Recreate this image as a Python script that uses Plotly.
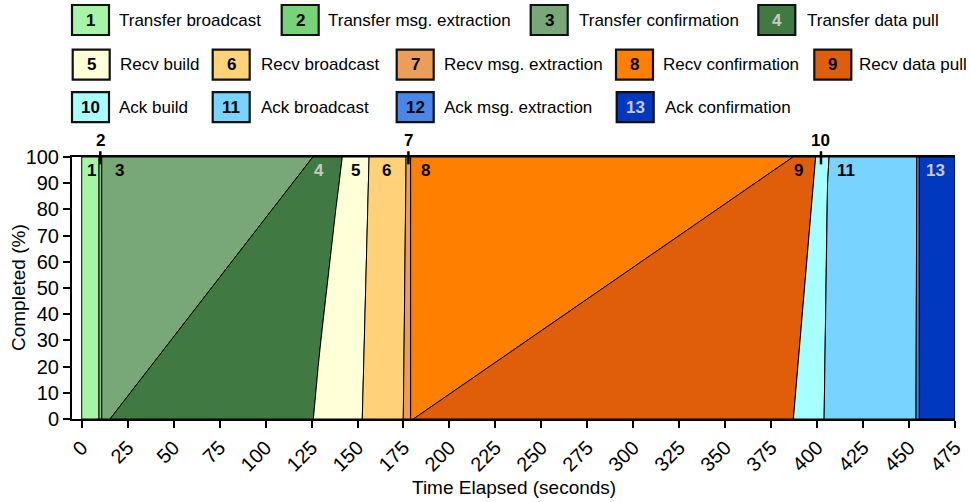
import plotly.graph_objects as go

# ---------------- data ----------------
phase_names = [
    "Transfer broadcast", "Transfer msg. extraction", "Transfer confirmation", "Transfer data pull",
    "Recv build", "Recv broadcast", "Recv msg. extraction", "Recv confirmation", "Recv data pull",
    "Ack build", "Ack broadcast", "Ack msg. extraction", "Ack confirmation",
]
completed_pct = [0, 10, 20, 30, 40, 50, 60, 70, 80, 90, 100]

# time (s) at which each phase has ended, for each completion level
start_time                = [0.0, 0.0, 0.0, 0.0, 0.0, 0.0, 0.0, 0.0, 0.0, 0.0, 0.0]
end_transfer_broadcast    = [9.4, 9.4, 9.4, 9.4, 9.4, 9.4, 9.4, 9.4, 9.4, 9.4, 9.4]
end_transfer_extraction   = [10.9, 10.9, 10.9, 10.9, 10.9, 10.9, 10.9, 10.9, 10.9, 10.9, 10.9]
end_transfer_confirmation = [15.4, 26.4, 37.5, 48.5, 59.5, 70.6, 81.6, 92.6, 103.6, 114.7, 125.7]
end_transfer_data_pull    = [126.0, 127.1, 128.6, 130.1, 131.7, 133.2, 134.7, 136.5, 138.2, 140.0, 141.7]
end_recv_build            = [152.6, 153.0, 153.3, 153.7, 154.1, 154.5, 154.8, 155.2, 155.6, 155.9, 156.3]
end_recv_broadcast        = [174.9, 175.1, 175.2, 175.4, 175.5, 175.7, 175.8, 176.0, 176.1, 176.3, 176.4]
end_recv_extraction       = [178.9, 178.9, 178.9, 178.9, 178.9, 178.9, 178.9, 178.9, 178.9, 178.9, 178.9]
end_recv_confirmation     = [180.4, 201.1, 221.7, 242.4, 263.0, 283.7, 304.3, 325.0, 345.6, 366.3, 386.9]
end_recv_data_pull        = [387.1, 388.3, 389.5, 390.7, 391.9, 393.2, 394.4, 395.6, 396.8, 398.0, 399.2]
end_ack_build             = [403.8, 404.0, 404.2, 404.4, 404.6, 404.8, 405.0, 405.2, 405.4, 405.7, 406.5]
end_ack_broadcast         = [453.8, 453.8, 453.9, 453.9, 454.0, 454.0, 454.0, 454.1, 454.1, 454.2, 454.2]
end_ack_extraction        = [455.6, 455.6, 455.6, 455.6, 455.6, 455.6, 455.6, 455.6, 455.6, 455.6, 455.6]
end_ack_confirmation      = [475.0, 475.0, 475.0, 475.0, 475.0, 475.0, 475.0, 475.0, 475.0, 475.0, 475.0]

boundaries = [
    start_time, end_transfer_broadcast, end_transfer_extraction, end_transfer_confirmation,
    end_transfer_data_pull, end_recv_build, end_recv_broadcast, end_recv_extraction,
    end_recv_confirmation, end_recv_data_pull, end_ack_build, end_ack_broadcast,
    end_ack_extraction, end_ack_confirmation,
]

x_tick_values = list(range(0, 476, 25))
y_tick_values = list(range(0, 101, 10))
x_title = "Time Elapsed (seconds)"
y_title = "Completed (%)"

# ---------------- styles ----------------
phase_colors = [
    "#a6f5a6", "#78d278", "#78a878", "#407a42",
    "#ffffd8", "#ffd27a", "#eb9e5a", "#ff7f00", "#e05e0a",
    "#a8ffff", "#78d4ff", "#4a86e8", "#0038c0",
]
number_colors = ["black", "black", "black", "#c8c8c8",
                 "black", "black", "black", "black", "black",
                 "black", "black", "black", "#c8c8c8"]

FONT = "Liberation Sans, Arial, sans-serif"
W, H = 970, 502
ML, MR, MT, MB = 72, 15, 157, 83
PW, PH = W - ML - MR, H - MT - MB


def px(x):
    return (x - ML) / PW


def py(y):
    return (H - MB - y) / PH


fig = go.Figure()

# phase areas
for i, name in enumerate(phase_names):
    left = boundaries[i]
    right = boundaries[i + 1]
    xs = list(left) + list(reversed(right)) + [left[0]]
    ys = list(completed_pct) + list(reversed(completed_pct)) + [completed_pct[0]]
    fig.add_trace(go.Scatter(
        x=xs, y=ys, mode="lines", fill="toself",
        fillcolor=phase_colors[i], line=dict(color="black", width=1),
        name=name, showlegend=False, hoverinfo="skip",
    ))

# in-plot phase labels (index, x position, inside?)
label_specs = [
    (0, 5.4, True), (1, 10.1, False), (2, 20.5, True), (3, 129.0, True),
    (4, 148.7, True), (5, 166.0, True), (6, 177.7, False), (7, 187.1, True),
    (8, 389.8, True), (9, 402.1, False), (10, 415.5, True), (12, 464.5, True),
]
annotations = []
shapes = []
for idx, xpos, inside in label_specs:
    if inside:
        annotations.append(dict(
            x=xpos, y=0.948, xref="x", yref="paper", text="<b>%d</b>" % (idx + 1),
            showarrow=False, font=dict(family=FONT, size=17, color=number_colors[idx]),
            xanchor="center", yanchor="middle"))
    else:
        annotations.append(dict(
            x=xpos, y=1.064, xref="x", yref="paper", text="<b>%d</b>" % (idx + 1),
            showarrow=False, font=dict(family=FONT, size=17, color="black"),
            xanchor="center", yanchor="middle"))
        shapes.append(dict(type="line", xref="x", yref="paper",
                           x0=xpos, x1=xpos, y0=0.972, y1=1.022,
                           line=dict(color="black", width=2.5)))

# custom legend
legend_rows = [0, 0, 0, 0, 1, 1, 1, 1, 1, 2, 2, 2, 2]
row_center = [20, 64.7, 107.2]
box_left = [72, 281.7, 530.7, 758.3, 72.7, 212.7, 396.7, 616, 814.3, 72, 212.7, 396.7, 616.7]
text_left = [117, 326, 576.7, 805, 118.3, 259.3, 441.7, 661, 857.3, 116.7, 259.3, 441.7, 662.7]
BW, BH = 37, 30
for i, name in enumerate(phase_names):
    yc = row_center[legend_rows[i]]
    bx = box_left[i]
    shapes.append(dict(type="rect", xref="paper", yref="paper",
                       x0=px(bx), x1=px(bx + BW), y0=py(yc + BH / 2), y1=py(yc - BH / 2),
                       fillcolor=phase_colors[i], line=dict(color="#111111", width=2.2)))
    annotations.append(dict(x=px(bx + BW / 2), y=py(yc), xref="paper", yref="paper",
                            text="<b>%d</b>" % (i + 1), showarrow=False,
                            font=dict(family=FONT, size=17, color=number_colors[i]),
                            xanchor="center", yanchor="middle"))
    annotations.append(dict(x=px(text_left[i]), y=py(yc), xref="paper", yref="paper",
                            text=name, showarrow=False,
                            font=dict(family=FONT, size=17, color="black"),
                            xanchor="left", yanchor="middle"))

# axis titles
annotations.append(dict(x=px(513.5), y=py(487), xref="paper", yref="paper", text=x_title,
                        showarrow=False, font=dict(family=FONT, size=19, color="black"),
                        xanchor="center", yanchor="middle"))
annotations.append(dict(x=px(18), y=py(288), xref="paper", yref="paper", text=y_title,
                        showarrow=False, textangle=-90,
                        font=dict(family=FONT, size=19, color="black"),
                        xanchor="center", yanchor="middle"))

fig.update_layout(
    width=W, height=H,
    margin=dict(l=ML, r=MR, t=MT, b=MB, autoexpand=False),
    paper_bgcolor="white", plot_bgcolor="white",
    font=dict(family=FONT, size=18, color="black"),
    showlegend=False,
    annotations=annotations,
    shapes=shapes,
    xaxis=dict(
        range=[-5.3, 475], tickvals=x_tick_values, tickangle=-45,
        ticks="outside", ticklen=7, tickwidth=1.5, tickcolor="black",
        showline=True, linecolor="black", linewidth=2, mirror=True,
        showgrid=False, zeroline=False, automargin=False,
        tickfont=dict(family=FONT, size=20),
    ),
    yaxis=dict(
        range=[0, 100], tickvals=y_tick_values,
        ticks="outside", ticklen=7, tickwidth=1.5, tickcolor="black",
        showline=True, linecolor="black", linewidth=2,
        showgrid=False, zeroline=False, automargin=False,
        tickfont=dict(family=FONT, size=20),
    ),
)

fig.write_html(
    "out.html",
    config={"displayModeBar": False},
    post_script="document.body.style.margin='0';document.body.style.overflow='hidden';",
)
